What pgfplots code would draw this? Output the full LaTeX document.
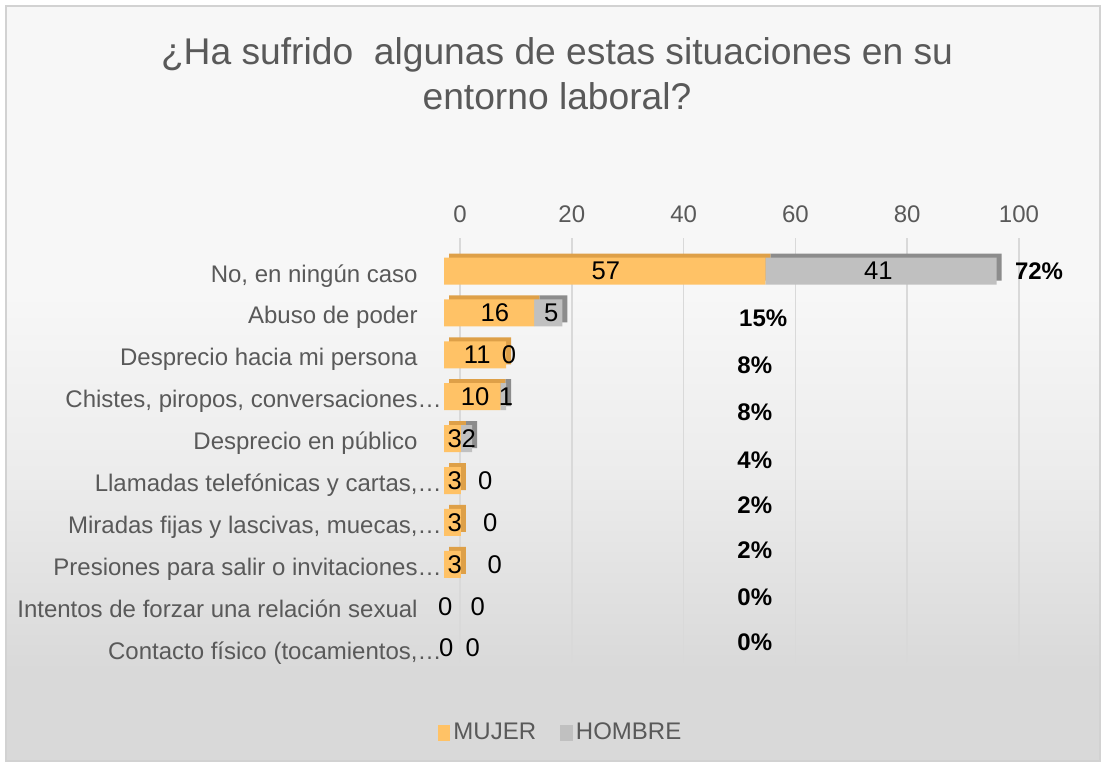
\documentclass[border=0pt]{standalone}
\usepackage{fontspec}
\setmainfont{Liberation Sans}
\usepackage{pgfplots}
\usepackage{pgfplotstable}
\pgfplotsset{compat=1.18}
\definecolor{muj}{RGB}{255,194,102}
\definecolor{mujd}{RGB}{222,160,72}
\definecolor{hom}{RGB}{192,192,192}
\definecolor{homd}{RGB}{140,140,140}
\definecolor{txtg}{RGB}{89,89,89}
\definecolor{gridg}{RGB}{217,217,217}
\definecolor{bgtop}{RGB}{247,247,247}
\definecolor{bgmid}{RGB}{236,236,236}
\definecolor{bgbot}{RGB}{217,217,217}
\definecolor{brd}{RGB}{210,210,210}
\pgfdeclareverticalshading{bgshade}{100bp}{color(0bp)=(bgbot); color(31bp)=(bgbot); color(44bp)=(bgmid); color(56bp)=(bgtop); color(100bp)=(bgtop)}

\pgfplotstableread{
y mujer hombre
0 57 41
1 16 5
2 11 0
3 10 1
4 3 2
5 3 0
6 3 0
7 3 0
8 0 0
9 0 0
}\datatab

\pgfplotstableread{
x y lab
28.7 0 57
77.0 0 41
9.0 1 16
19.0 1 5
5.9 2 11
11.5 2 0
5.5 3 10
11.0 3 1
1.9 4 3
4.4 4 2
1.9 5 3
7.3 5 0
1.9 6 3
8.2 6 0
1.9 7 3
9.0 7 0
0.2 8 0
6.0 8 0
0.4 9 0
5.1 9 0
}\valtab

\pgfplotstableread{
x y lab
105.5 0 72
56.6 1.12 15
55.1 2.24 8
55.1 3.37 8
55.1 4.51 4
55.1 5.58 2
55.1 6.66 2
55.1 7.78 0
55.1 8.85 0
}\pcttab

\pgfplotsset{
  frontax/.style={
    anchor=north west, scale only axis,
    width=282pt, height=230.45pt,
    xmin=0, xmax=100, ymin=-1, ymax=10, y dir=reverse,
    axis line style={draw=none}, major tick length=0pt,
    xtick=\empty, ytick=\empty,
  },
  legsq/.style={legend image code/.code={\fill[##1] (0pt,-3.9pt) rectangle (6.4pt,3.9pt);}},
}

\begin{document}
\begin{tikzpicture}
\useasboundingbox (0pt,0pt) rectangle (553pt,-383.5pt);
\fill[white] (0pt,0pt) rectangle (553pt,-383.5pt);
\shade[shading=bgshade] (3pt,-3pt) rectangle (550pt,-380.5pt);
\draw[brd, line width=0.7pt] (3pt,-3pt) rectangle (550pt,-380.5pt);

\node[align=center, text=txtg, font=\fontsize{18.6}{22.5}\selectfont] at (278.5pt,-37pt)
  {¿Ha sufrido~ algunas de estas situaciones en su\\entorno laboral?};

% back wall: grid and tick labels
\begin{axis}[
  at={(230pt,-119pt)}, anchor=north west, scale only axis,
  width=279.5pt, height=212pt,
  xmin=0, xmax=100, ymin=0, ymax=1,
  xtick={0,20,40,60,80,100}, ytick=\empty,
  xticklabel pos=upper,
  axis line style={draw=none}, major tick length=0pt,
  xmajorgrids, grid style={gridg, line width=0.8pt},
  xticklabel style={font=\fontsize{12}{14}\selectfont, text=txtg, yshift=4pt},
  /pgf/number format/assume math mode=true,
]
\end{axis}

% depth (3D sides)
\begin{axis}[frontax, at={(224.5pt,-112.55pt)}, xbar stacked, bar width=13.5pt]
\addplot[draw=none, fill=mujd] table[x=mujer, y=y] {\datatab};
\addplot[draw=none, fill=homd] table[x=hombre, y=y] {\datatab};
\end{axis}

% front bars
\begin{axis}[frontax, at={(222pt,-114.55pt)}, xbar stacked, bar width=13.5pt,
  ytick={0,...,9},
  yticklabels={{No, en ningún caso},{Abuso de poder},{Desprecio hacia mi persona},
    {Chistes, piropos, conversaciones\rlap{…}},{Desprecio en público},
    {Llamadas telefónicas y cartas,\rlap{…}},{Miradas fijas y lascivas, muecas,\rlap{…}},
    {Presiones para salir o invitaciones\rlap{…}},{Intentos de forzar una relación sexual},
    {Contacto físico (tocamientos,\rlap{…}}},
  yticklabel style={font=\fontsize{12}{14}\selectfont, text=txtg, anchor=east,
    inner sep=0pt, xshift=-13pt, yshift=-2.45pt, text height=8.6pt, text depth=2.5pt},
  legend style={at={(axis description cs:0.2074,-0.0933)}, anchor=center,
    draw=none, fill=none, legend columns=2,
    font=\fontsize{12}{14}\selectfont, text=txtg,
    cells={anchor=west}, nodes={inner sep=1.5pt},
    /tikz/every even column/.append style={column sep=10.5pt}},
]
\addplot[draw=none, fill=muj, legsq] table[x=mujer, y=y] {\datatab};
\addplot[draw=none, fill=hom, legsq] table[x=hombre, y=y] {\datatab};
\legend{MUJER, HOMBRE}
\end{axis}

% data labels
\begin{axis}[frontax, at={(222pt,-114.55pt)}, clip=false, hide axis]
\addplot[draw=none, mark=none,
  point meta=explicit symbolic, nodes near coords,
  every node near coord/.append style={anchor=center, inner sep=0pt,
    font=\fontsize{12.8}{14}\selectfont, text=black}]
  table[x=x, y=y, meta=lab] {\valtab};
\addplot[draw=none, mark=none,
  point meta=explicit symbolic, nodes near coords={\pgfplotspointmeta\%},
  every node near coord/.append style={anchor=center, inner sep=0pt,
    font=\fontsize{12}{14}\selectfont\bfseries, text=black}]
  table[x=x, y=y, meta=lab] {\pcttab};
\end{axis}
\end{tikzpicture}
\end{document}
